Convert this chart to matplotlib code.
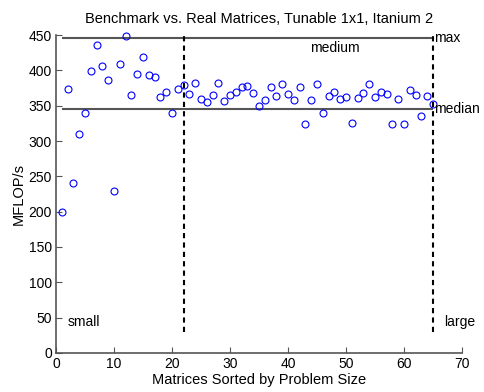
import matplotlib
matplotlib.use("Agg")
import matplotlib.pyplot as plt
import numpy as np

plt.rcParams['font.family'] = ['Liberation Sans', 'DejaVu Sans']

x = np.arange(1, 66)
mflops = [200, 373, 241, 310, 340, 399, 436, 406, 386, 229,
          409, 449, 365, 395, 419, 394, 391, 362, 370, 339,
          374, 379, 366, 382, 360, 355, 365, 382, 356, 365,
          370, 376, 378, 368, 350, 358, 376, 364, 381, 366,
          358, 376, 324, 358, 380, 340, 364, 369, 360, 362,
          325, 361, 368, 380, 362, 369, 366, 324, 360, 324,
          372, 365, 336, 363, 352]
max_val = 446
median_val = 345
split_small = 22
split_large = 65

fig = plt.figure(figsize=(4.84, 3.92), dpi=100)
ax = fig.add_axes([0.1157, 0.0995, 0.8388, 0.8112])

ax.plot(x, mflops, 'o', mfc='none', mec='#0000ff', ms=5, mew=0.8,
        zorder=3, clip_on=False)
ax.hlines([max_val, median_val], 1, split_large, colors='#555555', lw=1.5)
ax.vlines([split_small, split_large], 30, 450, colors='black', lw=1.5,
          linestyles=(0, (2.5, 2)))

ax.text(48, 432, 'medium', ha='center', va='center', fontsize=10)
ax.text(65.2, max_val, 'max', ha='left', va='center', fontsize=10)
ax.text(65.2, median_val, 'median', ha='left', va='center', fontsize=10)
ax.text(2, 44, 'small', ha='left', va='center', fontsize=10)
ax.text(67, 44, 'large', ha='left', va='center', fontsize=10)

ax.set_xlim(0, 70)
ax.set_ylim(0, 450)
ax.set_xticks(range(0, 71, 10))
ax.set_yticks(range(0, 451, 50))
ax.spines['top'].set_visible(False)
ax.spines['right'].set_visible(False)
for s in ['left', 'bottom']:
    ax.spines[s].set_color('#555555')
    ax.spines[s].set_linewidth(1.2)
ax.tick_params(direction='in', length=4, labelsize=10, color='#555555', pad=3)

ax.set_title('Benchmark vs. Real Matrices, Tunable 1x1, Itanium 2', fontsize=10.5, pad=9)
ax.set_xlabel('Matrices Sorted by Problem Size', fontsize=10.5, labelpad=1)
ax.set_ylabel('MFLOP/s', fontsize=10.5, labelpad=2)

fig.savefig('out.png', dpi=100)
